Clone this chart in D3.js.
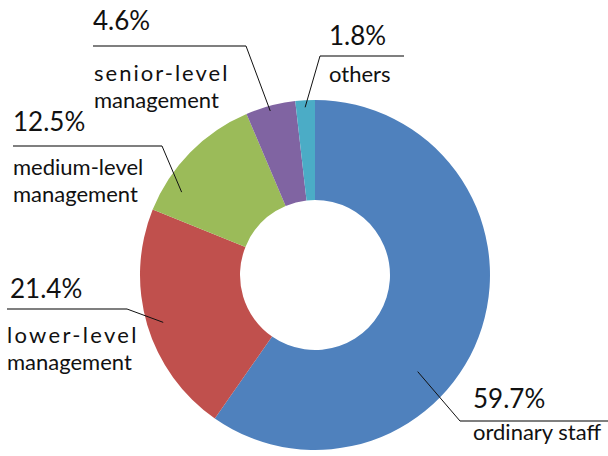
<!DOCTYPE html>
<html>
<head>
<meta charset="utf-8">
<script src="https://cdn.jsdelivr.net/npm/d3@7"></script>
<style>
  html, body { margin: 0; padding: 0; background: #fff; }
  svg { display: block; }
  text { font-family: Lato, "Open Sans", sans-serif; fill: #111; }
</style>
</head>
<body>
<svg id="chart" width="608" height="456"></svg>
<script>
// Staff composition by position level (share of total, %)
const categories = ["ordinary staff", "lower-level management", "medium-level management", "senior-level management", "others"];
const values = [59.7, 21.4, 12.5, 4.6, 1.8];
const valueLabels = ["59.7%", "21.4%", "12.5%", "4.6%", "1.8%"];
const nameLines = [["ordinary staff"], ["lower-level", "management"], ["medium-level", "management"], ["senior-level", "management"], ["others"]];
const colors = ["#4F81BD", "#C0504D", "#9BBB59", "#8064A2", "#4BACC6"];

// Callout layout: label block origin, elbow of the leader, and where the leader
// touches its slice (fraction through the slice's angle, radius from centre).
const callouts = [
  { x: 473, pctY: 408, nameY: 440, lineY: 421, x0: 460, x1: 608, elbow: "left",  t: 0.62, r: 141, spacing: 0 },
  { x: 10,  pctY: 298, nameY: 343, lineY: 309, x0: 7,   x1: 127, elbow: "right", t: 0.49, r: 159, spacing: 2.3, nameX: 7 },
  { x: 13,  pctY: 131, nameY: 175, lineY: 146, x0: 13,  x1: 162, elbow: "right", t: 0.22, r: 157, spacing: 0 },
  { x: 93,  pctY: 30,  nameY: 81,  lineY: 46,  x0: 93,  x1: 246, elbow: "right", t: 0.47, r: 170, spacing: 2.0, nameX: 94 },
  { x: 329, pctY: 45,  nameY: 82,  lineY: 56,  x0: 320, x1: 404, elbow: "left",  t: 0.48, r: 168, spacing: 0 }
];

const cx = 315, cy = 275, outerR = 175, innerR = 75;
const svg = d3.select("#chart");

const pie = d3.pie().sort(null).value(d => d)(values);
const arc = d3.arc().innerRadius(innerR).outerRadius(outerR);

const g = svg.append("g").attr("transform", `translate(${cx},${cy})`);
g.selectAll("path.slice")
  .data(pie)
  .join("path")
  .attr("class", "slice")
  .attr("d", arc)
  .attr("fill", (d, i) => colors[i]);

// Leader lines and labels
const lg = svg.append("g");
pie.forEach((d, i) => {
  const c = callouts[i];
  const a = d.startAngle + c.t * (d.endAngle - d.startAngle);
  const tx = cx + c.r * Math.sin(a), ty = cy - c.r * Math.cos(a);
  const ex = c.elbow === "left" ? c.x0 : c.x1;
  lg.append("line")
    .attr("x1", c.x0).attr("x2", c.x1).attr("y1", c.lineY).attr("y2", c.lineY)
    .attr("stroke", "#555").attr("stroke-width", 1.3);
  lg.append("line")
    .attr("x1", ex).attr("y1", c.lineY).attr("x2", tx).attr("y2", ty)
    .attr("stroke", "#111").attr("stroke-width", 1);
  lg.append("text")
    .attr("x", c.x).attr("y", c.pctY)
    .attr("font-size", 26)
    .text(valueLabels[i]);
  nameLines[i].forEach((s, k) => {
    lg.append("text")
      .attr("x", c.nameX !== undefined ? c.nameX : c.x)
      .attr("y", c.nameY + k * 27)
      .attr("font-size", 22)
      .attr("letter-spacing", k === 0 ? c.spacing : 0)
      .text(s);
  });
});
</script>
</body>
</html>
